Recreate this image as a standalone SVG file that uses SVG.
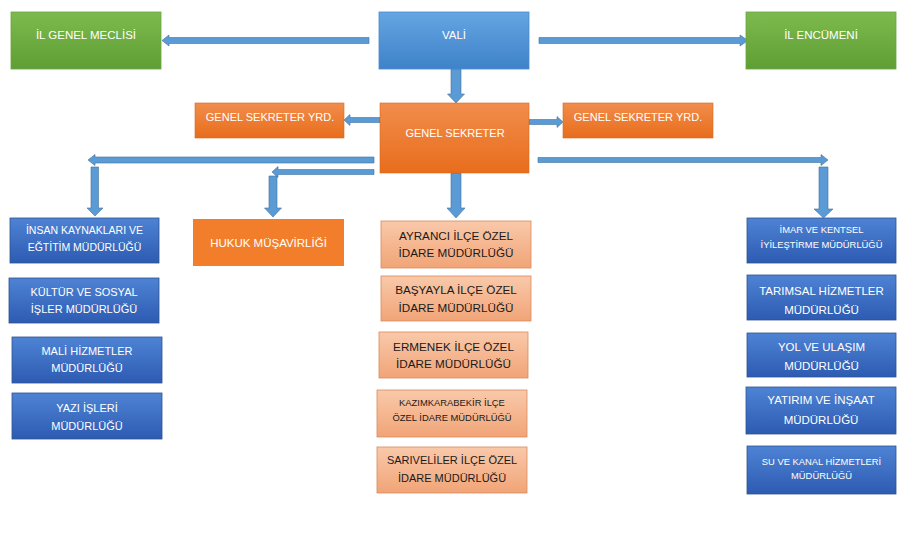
<svg xmlns="http://www.w3.org/2000/svg" width="905" height="554" viewBox="0 0 905 554">
<defs>
<linearGradient id="gGreen" x1="0" y1="0" x2="0" y2="1"><stop offset="0" stop-color="#7dba4e"/><stop offset="1" stop-color="#5f9e34"/></linearGradient>
<linearGradient id="gVali" x1="0" y1="0" x2="0" y2="1"><stop offset="0" stop-color="#65a5e2"/><stop offset="1" stop-color="#3e82c8"/></linearGradient>
<linearGradient id="gOrange" x1="0" y1="0" x2="0" y2="1"><stop offset="0" stop-color="#f18d4c"/><stop offset="1" stop-color="#e86d1c"/></linearGradient>
<linearGradient id="gBlue" x1="0" y1="0" x2="0" y2="1"><stop offset="0" stop-color="#4e83d4"/><stop offset="1" stop-color="#2d5bb2"/></linearGradient>
<linearGradient id="gSalmon" x1="0" y1="0" x2="0" y2="1"><stop offset="0" stop-color="#f9c9aa"/><stop offset="1" stop-color="#f1a477"/></linearGradient>
</defs>
<style>
text{font-family:"Liberation Sans",Arial,sans-serif;text-anchor:middle;fill:#fff}
.green{fill:url(#gGreen);stroke:#6aa63f;stroke-width:0.8}
.vali{fill:url(#gVali);stroke:#4a8bd0;stroke-width:0.8}
.orange{fill:url(#gOrange);stroke:#d8691f;stroke-width:0.6}
.hukuk{fill:#f27e2b}
.blue{fill:url(#gBlue);stroke:#2f538f;stroke-width:0.8}
.salmon{fill:url(#gSalmon);stroke:#d98a5c;stroke-width:0.8}
.t12{font-size:11.5px}
.t11{font-size:11px}
.t10{font-size:10.5px}
.t9{font-size:9.4px}
.s12{font-size:11.7px}
.dark{fill:#1a1a1a}
.arrow{fill:#5b9bd5;stroke:#41719c;stroke-width:0.6}
</style>
<rect width="905" height="554" fill="#fff"/>

<g id="connectors">
<polygon class="arrow" points="369,37.5 169,37.5 169,35 162,40.5 169,46 169,43.5 369,43.5"/>
<polygon class="arrow" points="539,37.5 740,37.5 740,35 748,40.5 740,46 740,43.5 539,43.5"/>
<polygon class="arrow" points="451,69 461,69 461,94 464.5,94 456,103 447.5,94 451,94"/>
<polygon class="arrow" points="380,117.5 350,117.5 350,114.5 344,120 350,125.5 350,122.5 380,122.5"/>
<polygon class="arrow" points="529,119.5 557,119.5 557,116.5 563,122 557,127.5 557,124.5 529,124.5"/>
<polygon class="arrow" points="374,157 95,157 95,154.5 88,160 95,165.5 95,163 374,163"/>
<polygon class="arrow" points="91,167 98.5,167 98.5,208 103,208 95,216 87,208 91,208"/>
<polygon class="arrow" points="374,169.5 278,169.5 278,166.5 272,172 278,177.5 278,174.5 374,174.5"/>
<polygon class="arrow" points="269,176 277,176 277,208 281.5,208 273,217 264.5,208 269,208"/>
<polygon class="arrow" points="538,157.5 821,157.5 821,154.5 828,160 821,165.5 821,162.5 538,162.5"/>
<polygon class="arrow" points="819,167 828,167 828,209 833,209 823.5,218 814,209 819,209"/>
<polygon class="arrow" points="451,173 461,173 461,208 465,208 456,218 447,208 451,208"/>
</g>

<g id="il-genel-meclisi"><rect class="green" x="11" y="12" width="150" height="57"/><text class="t12" x="86" y="38.5">İL GENEL MECLİSİ</text></g>
<g id="vali"><rect class="vali" x="379" y="12" width="150" height="57"/><text class="t12" x="454" y="38.5">VALİ</text></g>
<g id="il-encumeni"><rect class="green" x="746" y="12" width="150" height="57"/><text class="t12" x="821" y="38.5">İL ENCÜMENİ</text></g>

<g id="genel-sekreter"><rect class="orange" x="380" y="103" width="149" height="70"/><text class="t11" x="455" y="137">GENEL SEKRETER</text></g>
<g id="gs-yrd-left"><rect class="orange" x="195" y="103" width="149" height="35"/><text class="t11" x="270" y="121">GENEL SEKRETER YRD.</text></g>
<g id="gs-yrd-right"><rect class="orange" x="563" y="103" width="150" height="35"/><text class="t11" x="638" y="121">GENEL SEKRETER YRD.</text></g>

<g id="hukuk"><rect class="hukuk" x="193" y="219" width="151" height="47"/><text class="t12" x="268.5" y="247">HUKUK MÜŞAVİRLİĞİ</text></g>

<g id="insan-kaynaklari"><rect class="blue" x="10" y="218" width="149" height="45"/><text class="t10" x="84.5" y="234">İNSAN KAYNAKLARI VE</text><text class="t10" x="84.5" y="251">EĞTİTİM MÜDÜRLÜĞÜ</text></g>
<g id="kultur"><rect class="blue" x="9" y="278" width="150" height="45"/><text class="t11" x="84" y="296">KÜLTÜR VE SOSYAL</text><text class="t11" x="84" y="313">İŞLER MÜDÜRLÜĞÜ</text></g>
<g id="mali"><rect class="blue" x="12" y="337" width="150" height="46"/><text class="t11" x="87" y="355">MALİ HİZMETLER</text><text class="t11" x="87" y="372">MÜDÜRLÜĞÜ</text></g>
<g id="yazi"><rect class="blue" x="12" y="393" width="150" height="46"/><text class="t11" x="87" y="412">YAZI İŞLERİ</text><text class="t11" x="87" y="430">MÜDÜRLÜĞÜ</text></g>

<g id="ayranci"><rect class="salmon" x="381" y="221" width="150" height="47"/><text class="s12 dark" x="456" y="240">AYRANCI İLÇE ÖZEL</text><text class="s12 dark" x="456" y="257">İDARE MÜDÜRLÜĞÜ</text></g>
<g id="basyayla"><rect class="salmon" x="381" y="276" width="150" height="45"/><text class="s12 dark" x="456" y="294">BAŞYAYLA İLÇE ÖZEL</text><text class="s12 dark" x="456" y="312">İDARE MÜDÜRLÜĞÜ</text></g>
<g id="ermenek"><rect class="salmon" x="379" y="332" width="149" height="46"/><text class="s12 dark" x="453.5" y="351">ERMENEK İLÇE ÖZEL</text><text class="s12 dark" x="453.5" y="368">İDARE MÜDÜRLÜĞÜ</text></g>
<g id="kazimkarabekir"><rect class="salmon" x="377" y="390" width="150" height="47"/><text class="t9 dark" x="452" y="406">KAZIMKARABEKİR İLÇE</text><text class="t9 dark" x="452" y="421">ÖZEL İDARE MÜDÜRLÜĞÜ</text></g>
<g id="sariveliler"><rect class="salmon" x="377" y="447" width="150" height="46"/><text class="t11 dark" x="452" y="464">SARIVELİLER İLÇE ÖZEL</text><text class="t11 dark" x="452" y="482">İDARE MÜDÜRLÜĞÜ</text></g>

<g id="imar"><rect class="blue" x="747" y="218" width="149" height="45"/><text class="t9" x="821.5" y="233">İMAR VE KENTSEL</text><text class="t9" x="821.5" y="248">İYİLEŞTİRME MÜDÜRLÜĞÜ</text></g>
<g id="tarimsal"><rect class="blue" x="747" y="275" width="149" height="45"/><text class="t12" x="821.5" y="295">TARIMSAL HİZMETLER</text><text class="t12" x="821.5" y="314">MÜDÜRLÜĞÜ</text></g>
<g id="yol"><rect class="blue" x="747" y="333" width="149" height="44"/><text class="t12" x="821.5" y="351">YOL VE ULAŞIM</text><text class="t12" x="821.5" y="370">MÜDÜRLÜĞÜ</text></g>
<g id="yatirim"><rect class="blue" x="746" y="387" width="150" height="47"/><text class="t12" x="821" y="404">YATIRIM VE İNŞAAT</text><text class="t12" x="821" y="424">MÜDÜRLÜĞÜ</text></g>
<g id="su-kanal"><rect class="blue" x="747" y="446" width="149" height="48"/><text class="t9" x="821.5" y="465">SU VE KANAL HİZMETLERİ</text><text class="t9" x="821.5" y="479">MÜDÜRLÜĞÜ</text></g>
</svg>
